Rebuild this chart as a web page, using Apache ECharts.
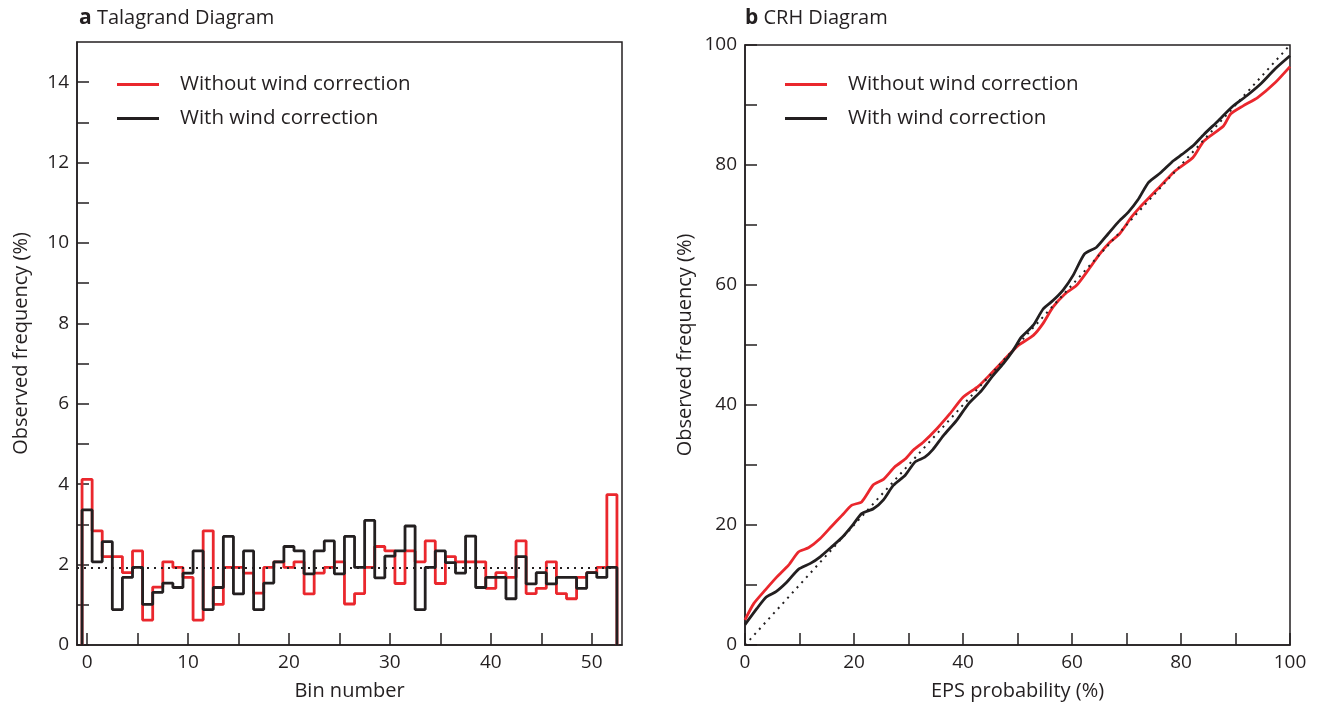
<!DOCTYPE html>
<html lang="en">
<head>
    <meta charset="UTF-8">
    <script src="https://cdn.jsdelivr.net/npm/echarts@6/dist/echarts.min.js"></script>
    <style>
        *{
            margin: 0;
            padding: 0;
        }
        #chart {
            width: 1317px;
            height: 706px;
            background: #fff;
        }
    </style>
</head>
<body>
<div id="chart"></div>
<script>
    // panel a: talagrand bins (bin number -> observed frequency %)
    var bins = [0,1,2,3,4,5,6,7,8,9,10,11,12,13,14,15,16,17,18,19,20,21,22,23,24,25,26,
        27,28,29,30,31,32,33,34,35,36,37,38,39,40,41,42,43,44,45,46,47,48,49,50,51,52];
    var talagrandNoWind = [4.12,2.84,2.2,2.2,1.8,2.34,0.62,1.44,2.07,1.93,1.68,0.62,2.84,1.01,1.93,1.93,1.79,1.29,
        1.93,2.07,1.93,2.07,1.27,1.79,1.93,2.07,1.02,1.28,1.93,2.45,2.34,1.53,2.34,2.07,2.59,1.53,
        2.2,2.07,2.07,2.07,1.41,1.8,1.68,2.59,1.28,1.41,2.07,1.28,1.15,1.68,1.8,1.93,3.74];
    var talagrandWind = [3.36,2.07,2.57,0.88,1.68,1.93,1.01,1.31,1.54,1.43,1.79,2.34,0.88,1.43,2.7,1.27,2.34,0.88,
        1.54,2.07,2.45,2.34,1.77,2.34,2.59,1.77,2.7,1.93,3.1,1.67,2.21,2.34,2.96,0.88,1.93,2.34,
        2.05,1.79,2.71,1.43,1.68,1.68,1.15,2.2,1.52,1.8,1.52,1.68,1.68,1.41,1.8,1.68,1.93];
    var uniformLevel = 1.92;

    // panel b: CRH (EPS probability %, observed frequency %)
    var crhNoWindX = [0,1.6,3.7,5.9,8.0,9.8,11.65,13.8,15.9,17.8,19.6,21.4,23.55,25.4,27.5,29.4,30.9,32.7,35.2,37.6,
        40.0,42.8,44.9,47.4,50.1,52.9,54.7,56.5,58.7,60.8,62.9,65.1,66.9,68.7,70.9,72.4,75.7,78.9,82.2,
        84.2,87.8,89.1,91.4,94.0,97.25,100];
    var crhNoWindY = [4.2,6.9,9.15,11.4,13.3,15.5,16.2,17.75,19.8,21.6,23.3,23.85,26.7,27.6,29.7,31.0,32.5,33.8,36.05,38.55,
        41.3,43.1,45.0,47.4,49.9,51.6,53.6,56.3,58.5,59.9,62.4,65.2,67.1,68.5,71.3,72.9,76.0,79.0,81.25,
        84.0,86.5,88.5,89.85,91.2,93.7,96.4];
    var crhWindX = [0,2.2,3.9,5.7,7.7,9.8,12.0,13.8,15.9,17.8,19.6,21.4,23.55,25.4,27.2,29.4,31.2,33.0,34.5,36.4,
        38.8,41.0,43.4,45.5,47.4,49.2,50.7,52.9,54.7,56.5,58.4,60.2,62.3,64.5,66.6,68.4,70.3,72.1,74.05,
        76.3,78.6,80.25,82.2,84.2,86.8,89.4,92.0,94.6,97.25,100];
    var crhWindY = [3.4,6.1,8.0,8.9,10.5,12.6,13.6,14.7,16.35,17.9,19.8,21.9,22.7,24.2,26.6,28.3,30.5,31.3,32.6,34.9,
        37.4,40.2,42.4,44.9,46.9,49.1,51.3,53.3,56.0,57.4,59.2,61.6,65.2,66.3,68.5,70.4,72.1,74.2,77.1,
        78.75,80.7,81.8,83.2,85.1,87.35,89.7,91.5,93.5,96.0,98.2];
    var perfectReliability = [0, 100];

    // tick labels
    var binTicks = [0,5,10,15,20,25,30,35,40,45,50];
    var binLabels = [0,10,20,30,40,50];
    var freqTicksA = [0,1,2,3,4,5,6,7,8,9,10,11,12,13,14];
    var freqLabelsA = [0,2,4,6,8,10,12,14];
    var pctTicks = [0,10,20,30,40,50,60,70,80,90,100];
    var pctLabels = [0,20,40,60,80,100];

    var RED = '#ea272d';
    var BLK = '#231f20';
    var FONT = 'Open Sans';
    var nameNoWind = 'Without wind correction';
    var nameWind = 'With wind correction';
    var LINE_ICON = 'path://M0,0 L42,0 L42,3 L0,3 Z';

    // step outline through bin edges
    function stepData(vals) {
        var out = [[bins[0] - 0.5, 0]];
        for (var i = 0; i < bins.length; i++) {
            out.push([bins[i] - 0.5, vals[i]]);
        }
        out.push([bins[bins.length - 1] + 0.5, 0]);
        return out;
    }
    function pairs(xs, ys) {
        var out = [];
        for (var i = 0; i < xs.length; i++) out.push([xs[i], ys[i]]);
        return out;
    }

    function axisCommon(ticks, labels) {
        return {
            type: 'value',
            axisLine: {show: true, onZero: false, lineStyle: {color: BLK, width: 1.5}},
            axisTick: {show: true, inside: true, length: 12, customValues: ticks, lineStyle: {color: BLK, width: 1.5}},
            axisLabel: {customValues: labels, color: BLK, fontSize: 19, fontFamily: FONT, margin: 8},
            splitLine: {show: false},
            nameLocation: 'middle',
            nameTextStyle: {color: BLK, fontSize: 20, fontFamily: FONT}
        };
    }

    var xa = axisCommon(binTicks, binLabels);
    xa.gridIndex = 0; xa.min = -1; xa.max = 53; xa.name = 'Bin number'; xa.nameGap = 36;
    var ya = axisCommon(freqTicksA, freqLabelsA);
    ya.gridIndex = 0; ya.min = 0; ya.max = 15; ya.name = 'Observed frequency (%)'; ya.nameGap = 46;
    var xb = axisCommon(pctTicks, pctLabels);
    xb.gridIndex = 1; xb.min = 0; xb.max = 100; xb.name = 'EPS probability (%)'; xb.nameGap = 36;
    var yb = axisCommon(pctTicks, pctLabels);
    yb.gridIndex = 1; yb.min = 0; yb.max = 100; yb.name = 'Observed frequency (%)'; yb.nameGap = 50;

    var legendText = {color: BLK, fontSize: 20.5, fontFamily: FONT, lineHeight: 20, padding: [0, 0, 0, 16]};

    function titleStyle() {
        return {fontSize: 20, fontWeight: 'normal', color: BLK, fontFamily: FONT,
            rich: {b: {fontSize: 21, fontWeight: 'bold', color: BLK, fontFamily: FONT}}};
    }

    var option = {
        animation: false,
        backgroundColor: '#fff',
        title: [
            {text: '{b|a} Talagrand Diagram', left: 74, top: 3, textStyle: titleStyle()},
            {text: '{b|b} CRH Diagram', left: 740, top: 3, textStyle: titleStyle()}
        ],
        legend: [
            {data: [{name: nameNoWind, icon: LINE_ICON}, {name: nameWind, icon: LINE_ICON}],
                left: 112, top: 69, orient: 'vertical',
                itemWidth: 42, itemHeight: 3, itemGap: 13, textStyle: legendText},
            {data: [{name: nameNoWind, icon: LINE_ICON}, {name: nameWind, icon: LINE_ICON}],
                left: 780, top: 69, orient: 'vertical',
                itemWidth: 42, itemHeight: 3, itemGap: 13, textStyle: legendText}
        ],
        grid: [
            {left: 77, top: 42, width: 545, height: 603, show: true, borderColor: BLK, borderWidth: 1.5},
            {left: 745, top: 45, width: 545, height: 600, show: true, borderColor: BLK, borderWidth: 1.5}
        ],
        xAxis: [xa, xb],
        yAxis: [ya, yb],
        series: [
            {
                name: nameNoWind, type: 'line', xAxisIndex: 0, yAxisIndex: 0, step: 'end',
                symbol: 'none', data: stepData(talagrandNoWind),
                lineStyle: {color: RED, width: 2.8}, itemStyle: {color: RED},
                markLine: {
                    silent: true, symbol: 'none', label: {show: false},
                    lineStyle: {color: BLK, width: 2, type: [2, 5]},
                    data: [{yAxis: uniformLevel}]
                }
            },
            {
                name: nameWind, type: 'line', xAxisIndex: 0, yAxisIndex: 0, step: 'end',
                symbol: 'none', data: stepData(talagrandWind),
                lineStyle: {color: BLK, width: 2.8}, itemStyle: {color: BLK}
            },
            {
                name: nameNoWind, type: 'line', xAxisIndex: 1, yAxisIndex: 1,
                symbol: 'none', smooth: 0.2, data: pairs(crhNoWindX, crhNoWindY),
                lineStyle: {color: RED, width: 2.8}, itemStyle: {color: RED},
                markLine: {
                    silent: true, symbol: 'none', label: {show: false},
                    lineStyle: {color: BLK, width: 2, type: [2, 5]},
                    data: [[{coord: [perfectReliability[0], perfectReliability[0]]},
                            {coord: [perfectReliability[1], perfectReliability[1]]}]]
                }
            },
            {
                name: nameWind, type: 'line', xAxisIndex: 1, yAxisIndex: 1,
                symbol: 'none', smooth: 0.2, data: pairs(crhWindX, crhWindY),
                lineStyle: {color: BLK, width: 2.8}, itemStyle: {color: BLK}
            }
        ]
    };

    var myChart = echarts.init(document.getElementById('chart'));
    myChart.setOption(option);
</script>
</body>
</html>
